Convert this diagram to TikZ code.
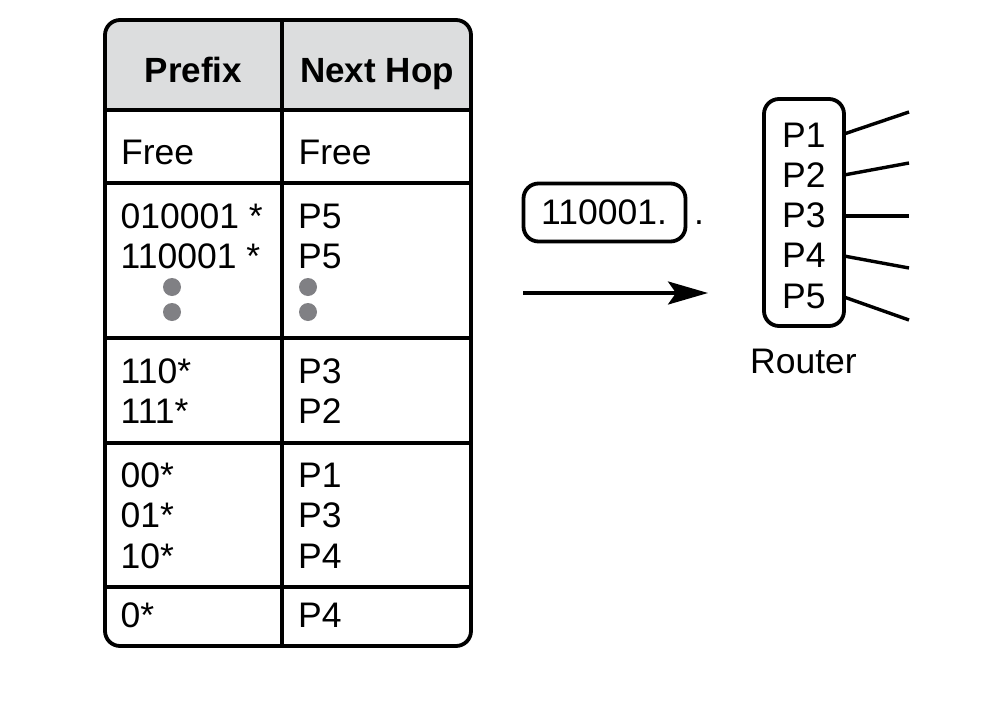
\documentclass[tikz,border=0pt]{standalone}
\usepackage{fontspec}
\setmainfont{Liberation Sans}
\usetikzlibrary{arrows.meta}
\definecolor{headgray}{HTML}{DCDDDE}
\definecolor{dotgray}{HTML}{808084}
\begin{document}
\begin{tikzpicture}[x=1pt,y=-1pt,
  txt/.style={inner sep=0pt, anchor=base west, font=\fontsize{35.5}{40}\selectfont},
  hd/.style={inner sep=0pt, anchor=base, font=\fontsize{35}{40}\selectfont\bfseries},
  rule/.style={line width=3.2pt},
  frame/.style={draw, line width=3.8pt, rounded corners=15pt, inner sep=0pt},
  dotc/.style={circle, fill=dotgray, inner sep=0pt, minimum size=18pt},
  link/.style={line width=3.4pt},
]
\useasboundingbox (0,0) rectangle (991,712);

% table
\begin{scope}
\clip[rounded corners=15pt] (105,20) rectangle (471,646);
\fill[headgray] (105,20) rectangle (471,110);
\end{scope}
\foreach \y in {110,183,338,443,587} \draw[rule] (105,\y) -- (471,\y);
\draw[rule] (282,20) -- (282,646);
\node[frame, minimum width=366pt, minimum height=626pt] (tbl) at (288,333) {};

\node[hd] (hpre) at (193.5,82) {Prefix};
\node[hd] (hnext) at (377,82) {Next Hop};

\node[txt] (l0) at (121,164) {Free};
\node[txt] (r0) at (298.5,164) {Free};

\node[txt] (l1a) at (120.5,228) {010001 *};
\node[txt] (l1b) at (120.5,268) {110001 *};
\node[txt] (r1a) at (298,228) {P5};
\node[txt] (r1b) at (298,268) {P5};
\node[dotc] (d1) at (172,287) {};
\node[dotc] (d2) at (172,312) {};
\node[dotc] (d3) at (308,287) {};
\node[dotc] (d4) at (308,312) {};

\node[txt] (l2a) at (120.5,383) {110*};
\node[txt] (l2b) at (120.5,423) {111*};
\node[txt] (r2a) at (298,383) {P3};
\node[txt] (r2b) at (298,423) {P2};

\node[txt] (l3a) at (120.5,487) {00*};
\node[txt] (l3b) at (120.5,527) {01*};
\node[txt] (l3c) at (120.5,568) {10*};
\node[txt] (r3a) at (298,487) {P1};
\node[txt] (r3b) at (298,527) {P3};
\node[txt] (r3c) at (298,568) {P4};

\node[txt] (l4) at (120.5,627) {0*};
\node[txt] (r4) at (298,627) {P4};

% packet
\node[frame, minimum width=162pt, minimum height=58pt] (pkt) at (604.5,212.5) {};
\node[txt] (pkttxt) at (541,224) {110001.};
\node[txt] (pktdot) at (694,224) {.};

% arrow
\coordinate (as) at (523,293);
\coordinate (ae) at (708,293);
\draw[line width=3.6pt, -{Stealth[length=40pt, width=23pt, inset=8pt]}] (as) -- (ae);

% router
\node[frame, minimum width=80pt, minimum height=227pt] (router) at (804,212.5) {};
\node[txt] (p1) at (782,147) {P1};
\node[txt] (p2) at (782,187) {P2};
\node[txt] (p3) at (782,227) {P3};
\node[txt] (p4) at (782,267) {P4};
\node[txt] (p5) at (782,308) {P5};
\node[txt] (rlabel) at (750,373) {Router};

\coordinate (s1) at (844,134); \coordinate (e1) at (909,112);
\coordinate (s2) at (844,175); \coordinate (e2) at (909,163);
\coordinate (s3) at (844,216); \coordinate (e3) at (909,216);
\coordinate (s4) at (844,256); \coordinate (e4) at (909,268);
\coordinate (s5) at (844,297); \coordinate (e5) at (909,320);
\foreach \i in {1,...,5} \draw[link] (s\i) -- (e\i);
\end{tikzpicture}
\end{document}
